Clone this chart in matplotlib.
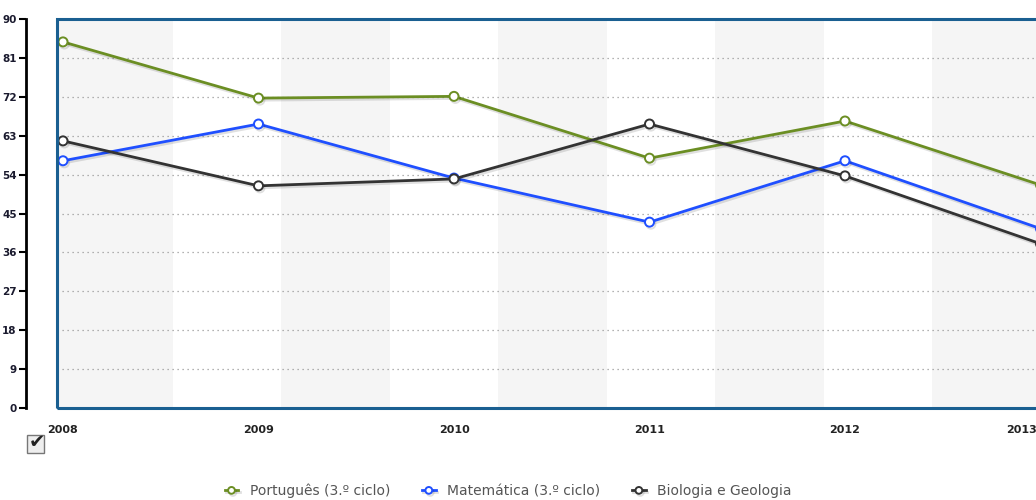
import matplotlib
matplotlib.use("Agg")
import matplotlib.pyplot as plt
import matplotlib.patheffects as pe
import matplotlib.transforms as mtransforms
from matplotlib.patches import Rectangle

# data
anos = [2008, 2009, 2010, 2011, 2012, 2013]
portugues = [84.7, 71.7, 72.1, 57.8, 66.4, 51.6]
matematica = [57.2, 65.7, 53.2, 43.0, 57.2, 41.5]
biologia = [61.8, 51.4, 53.0, 65.7, 53.7, 38.0]
yticks = list(range(0, 91, 9))

W, H = 1036, 500
fig = plt.figure(figsize=(W / 100, H / 100), dpi=100)

# axes box: left at px 57, top 19, bottom 408; right runs past the image edge
px_per_year = 195.5
def px2year(px):
    return 2008 + (px - 63) / px_per_year

x_left = px2year(57)
x_right = px2year(1060)
ax = fig.add_axes([57 / W, (H - 408) / H, (1060 - 57) / W, 389 / H])
ax.set_xlim(x_left, x_right)
ax.set_ylim(0, 90)

# alternating background bands
band = 108.5 / px_per_year
ax.axvspan(x_left, px2year(172.7), color='#f5f5f5', lw=0, zorder=0)
start = px2year(172.7) + band
while start < x_right:
    ax.axvspan(start, start + band, color='#f5f5f5', lw=0, zorder=0)
    start += 2 * band

for y in yticks[1:-1]:
    ax.axhline(y, color='#999999', lw=0.9, ls=(0, (1, 3)), zorder=1)

series = [
    (portugues, '#6b8e23', 'Português (3.º ciclo)'),
    (matematica, '#1f4fff', 'Matemática (3.º ciclo)'),
    (biologia, '#333333', 'Biologia e Geologia'),
]
shadow = [pe.SimpleLineShadow(offset=(1, -1.5), alpha=0.12, shadow_color='black'),
          pe.Normal()]
for vals, col, lab in series:
    ax.plot(anos, vals, color=col, lw=2, marker='o', ms=6.5,
            mfc='white', mec=col, mew=1.4, label=lab, zorder=3,
            clip_on=False, path_effects=shadow)

# blue frame
for s in ax.spines.values():
    s.set_visible(False)
ax.add_patch(Rectangle((0, 0), 1, 1, transform=ax.transAxes, fill=False,
                       ec='#1a5f91', lw=2.2, zorder=5, clip_on=False))

# y axis as a separate black line to the left
ax.spines['left'].set_visible(True)
ax.spines['left'].set_position(('outward', 22))
ax.spines['left'].set_color('black')
ax.spines['left'].set_linewidth(2)
ax.set_yticks(yticks)
ax.tick_params(axis='y', length=5, width=1.5, color='black', pad=2,
               labelsize=7.5, labelcolor='#1a1a2e')
for t in ax.get_yticklabels():
    t.set_fontweight('bold')

ax.set_xticks(anos)
ax.set_xticklabels([str(a) for a in anos])
ax.tick_params(axis='x', length=0, pad=12, labelsize=8, labelcolor='#222222')
for t in ax.get_xticklabels():
    t.set_fontweight('bold')
# last label is pushed inside the picture
last = ax.get_xticklabels()[-1]
last.set_horizontalalignment('right')
last.set_transform(last.get_transform() +
                   mtransforms.ScaledTranslation(-4 / 100, 0, fig.dpi_scale_trans))

# checkbox under the first year
fig.patches.append(Rectangle((27 / W, (H - 453) / H), 17 / W, 18 / H,
                             transform=fig.transFigure, fc='#eeeeee',
                             ec='#777777', lw=1))
fig.text(37 / W, (H - 442) / H, '✔', fontsize=14, color='#222222',
         ha='center', va='center')

fig.legend(loc='center', bbox_to_anchor=(508 / W, (H - 491) / H), ncol=3,
           frameon=False, fontsize=10, handlelength=1.0, handletextpad=0.8,
           columnspacing=2.3, markerscale=0.75, labelcolor='#555555')

fig.savefig('out.png', dpi=100)
